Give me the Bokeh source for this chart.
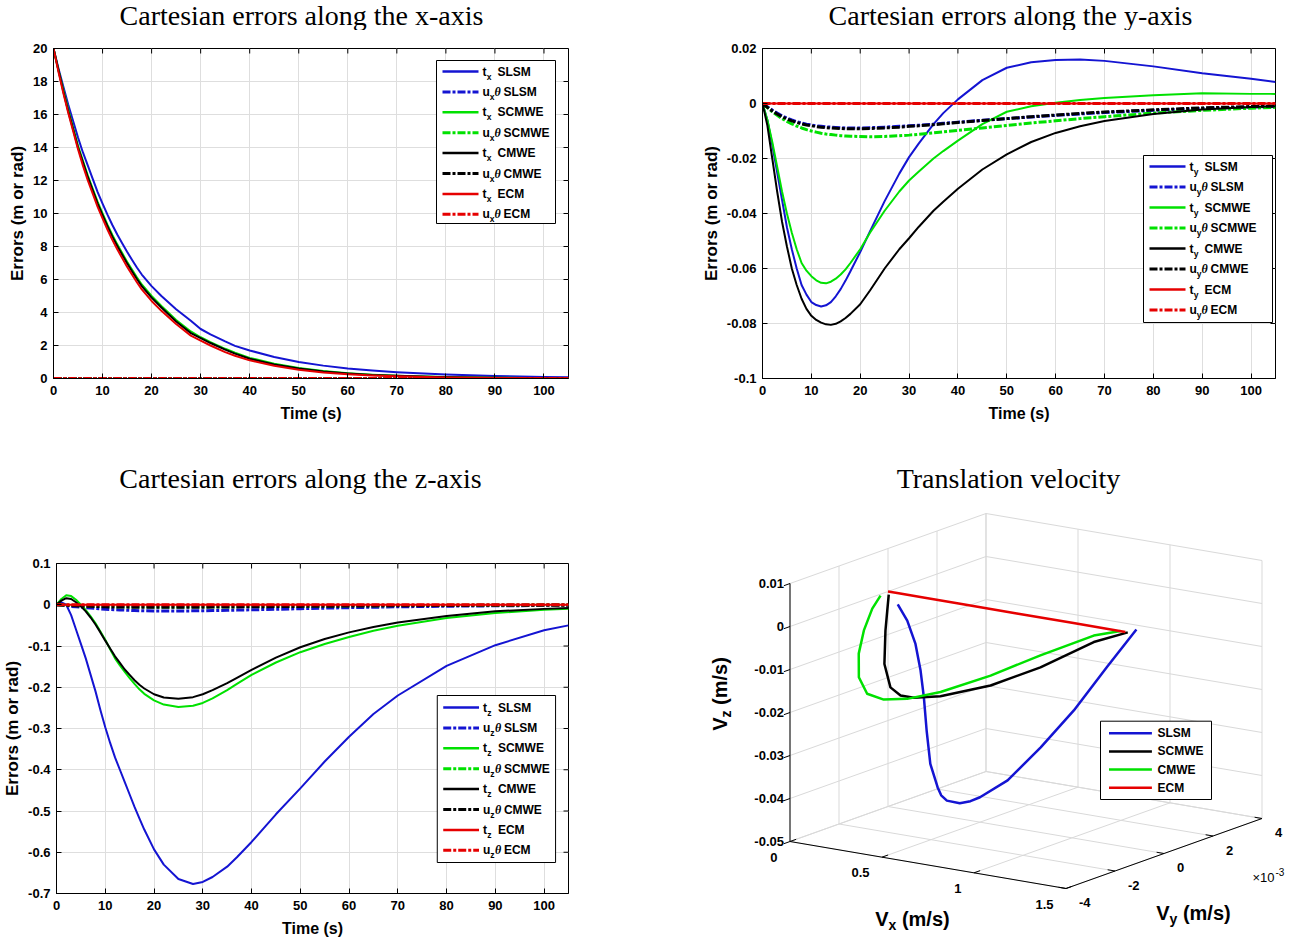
import numpy as np
from bokeh.core.properties import value
from bokeh.embed import file_html
from bokeh.layouts import column, row
from bokeh.models import FixedTicker, PrintfTickFormatter, Range1d
from bokeh.plotting import figure
from bokeh.resources import INLINE

# ---------------------------------------------------------------- data
TIME = [0, 1, 2, 3, 4, 5, 6, 7, 8, 9, 10, 11, 12, 13, 14, 15, 16, 17, 18,
        20, 22, 25, 28, 30, 32, 35, 37, 40, 45, 50, 55, 60, 65, 70, 80, 90, 100, 105]

# translation / rotation errors along x
TX_SLSM = [20.0, 18.8, 17.7, 16.6, 15.6, 14.6, 13.7, 12.9, 12.1, 11.3, 10.6, 9.93, 9.3, 8.73, 8.2,
           7.68, 7.2, 6.73, 6.3, 5.6, 5.0, 4.2, 3.5, 3.0, 2.68, 2.25, 1.98, 1.7, 1.3, 1.0, 0.78,
           0.6, 0.48, 0.38, 0.24, 0.15, 0.09, 0.07]
TX_SCMWE = [20.0, 18.7, 17.5, 16.3, 15.2, 14.1, 13.2, 12.3, 11.5, 10.7, 10.0, 9.33, 8.7, 8.13, 7.6,
            7.08, 6.6, 6.13, 5.7, 5.0, 4.4, 3.55, 2.85, 2.5, 2.2, 1.8, 1.56, 1.25, 0.9, 0.63, 0.45,
            0.32, 0.23, 0.17, 0.09, 0.05, 0.02, 0.02]
TX_CMWE = [20.0, 18.7, 17.4, 16.2, 15.1, 14.0, 13.1, 12.2, 11.4, 10.6, 9.9, 9.23, 8.6, 8.03, 7.5,
           6.98, 6.5, 6.03, 5.6, 4.9, 4.3, 3.45, 2.75, 2.45, 2.15, 1.75, 1.51, 1.2, 0.85, 0.6, 0.42,
           0.3, 0.21, 0.16, 0.08, 0.04, 0.02, 0.01]
TX_ECM = [20.0, 18.6, 17.3, 16.1, 15.0, 13.9, 12.9, 12.0, 11.2, 10.4, 9.7, 9.03, 8.4, 7.83, 7.3,
          6.78, 6.3, 5.83, 5.4, 4.7, 4.1, 3.3, 2.6, 2.3, 2.0, 1.6, 1.38, 1.1, 0.77, 0.53, 0.37,
          0.26, 0.18, 0.13, 0.06, 0.03, 0.01, 0.01]
UX_SLSM = [0.0, 0.0, 0.0, 0.0, 0.0, 0.0, 0.0, 0.0, 0.0, 0.0, 0.0, 0.0, 0.0, 0.0, 0.0, 0.0, 0.0, 0.0, 0.0,
           0.0, 0.0, 0.0, 0.0, 0.0, 0.0, 0.0, 0.0, 0.0, 0.0, 0.0, 0.0, 0.0, 0.0, 0.0, 0.0, 0.0, 0.0, 0.0]
UX_SCMWE = UX_SLSM
UX_CMWE = UX_SLSM
UX_ECM = UX_SLSM

# translation / rotation errors along y
TY_SLSM = [0.0, -0.006, -0.015, -0.025, -0.035, -0.045, -0.053, -0.060, -0.066, -0.0695, -0.0722,
           -0.0733, -0.0738, -0.0734, -0.0722, -0.0701, -0.0675, -0.0644, -0.061, -0.054, -0.0465,
           -0.0355, -0.0255, -0.0195, -0.0145, -0.0075, -0.0035, 0.0015, 0.0085, 0.013, 0.015,
           0.0158, 0.016, 0.0155, 0.0135, 0.011, 0.009, 0.0078]
TY_SCMWE = [0.0, -0.006, -0.014, -0.023, -0.032, -0.040, -0.047, -0.053, -0.058, -0.0608, -0.0628,
            -0.0643, -0.0652, -0.0654, -0.0648, -0.0637, -0.0622, -0.0603, -0.058, -0.053, -0.047,
            -0.039, -0.032, -0.028, -0.0247, -0.020, -0.0173, -0.0135, -0.0075, -0.003, -0.001,
            0.0003, 0.0013, 0.002, 0.003, 0.0037, 0.0035, 0.0035]
TY_CMWE = [0.0, -0.008, -0.020, -0.032, -0.043, -0.052, -0.060, -0.066, -0.071, -0.0747, -0.0772,
           -0.0787, -0.0797, -0.0803, -0.0805, -0.0801, -0.0792, -0.078, -0.0765, -0.073, -0.068,
           -0.060, -0.053, -0.049, -0.0448, -0.039, -0.0357, -0.031, -0.024, -0.0185, -0.014,
           -0.0107, -0.0083, -0.0064, -0.0038, -0.0022, -0.0013, -0.001]
TY_ECM = UX_SLSM
UY_SLSM = [0.0, -0.0012, -0.0024, -0.0035, -0.0045, -0.0053, -0.006, -0.0066, -0.0071, -0.0075,
           -0.0078, -0.0081, -0.0083, -0.0085, -0.0086, -0.0087, -0.0088, -0.0089, -0.0089, -0.0089,
           -0.0088, -0.0086, -0.0083, -0.0081, -0.0079, -0.0075, -0.0072, -0.0068, -0.0061, -0.0055,
           -0.0049, -0.0043, -0.0038, -0.0033, -0.0025, -0.0018, -0.0013, -0.0011]
UY_SCMWE = [0.0, -0.0015, -0.003, -0.0043, -0.0055, -0.0065, -0.0074, -0.0082, -0.0089, -0.0095,
            -0.0100, -0.0104, -0.0108, -0.0111, -0.0113, -0.0115, -0.0117, -0.0118, -0.0119, -0.012,
            -0.0121, -0.012, -0.0117, -0.0115, -0.0112, -0.0107, -0.0103, -0.0098, -0.0089, -0.008,
            -0.0071, -0.0063, -0.0055, -0.0048, -0.0035, -0.0025, -0.0017, -0.0014]
UY_CMWE = [0.0, -0.0014, -0.0027, -0.0038, -0.0048, -0.0056, -0.0063, -0.0069, -0.0074, -0.0078,
           -0.0081, -0.0084, -0.0086, -0.0088, -0.0089, -0.009, -0.0091, -0.0092, -0.0092, -0.0092,
           -0.0091, -0.0089, -0.0086, -0.0083, -0.0081, -0.0077, -0.0074, -0.0069, -0.0062, -0.0055,
           -0.0048, -0.0042, -0.0036, -0.0031, -0.0023, -0.0016, -0.0011, -0.0009]
UY_ECM = UX_SLSM

# translation / rotation errors along z
TZ_SLSM = [0.0, 0.006, 0.0, -0.025, -0.06, -0.095, -0.13, -0.17, -0.21, -0.255, -0.297, -0.335,
           -0.37, -0.40, -0.43, -0.46, -0.49, -0.518, -0.545, -0.593, -0.63, -0.665, -0.677, -0.672,
           -0.66, -0.635, -0.612, -0.575, -0.508, -0.445, -0.38, -0.32, -0.265, -0.22, -0.148,
           -0.098, -0.062, -0.05]
TZ_SCMWE = [0.0, 0.014, 0.023, 0.021, 0.012, 0.0, -0.013, -0.028, -0.045, -0.065, -0.085, -0.108,
            -0.13, -0.147, -0.163, -0.178, -0.192, -0.205, -0.216, -0.232, -0.242, -0.248, -0.245,
            -0.238, -0.227, -0.207, -0.192, -0.17, -0.14, -0.115, -0.095, -0.078, -0.063, -0.051,
            -0.032, -0.02, -0.012, -0.01]
TZ_CMWE = [0.0, 0.01, 0.016, 0.014, 0.006, -0.004, -0.016, -0.031, -0.048, -0.067, -0.087, -0.106,
           -0.125, -0.141, -0.157, -0.170, -0.183, -0.194, -0.203, -0.217, -0.225, -0.228, -0.224,
           -0.217, -0.207, -0.19, -0.177, -0.158, -0.128, -0.103, -0.083, -0.067, -0.054, -0.043,
           -0.027, -0.016, -0.01, -0.008]
TZ_ECM = UX_SLSM
UZ_SLSM = [0.0, -0.001, -0.002, -0.004, -0.005, -0.006, -0.007, -0.008, -0.009, -0.010, -0.011,
           -0.0115, -0.012, -0.0125, -0.013, -0.0135, -0.014, -0.0143, -0.0145, -0.015, -0.015,
           -0.015, -0.0148, -0.0145, -0.0141, -0.0135, -0.013, -0.0122, -0.011, -0.0095, -0.0082,
           -0.007, -0.006, -0.005, -0.0035, -0.0025, -0.0018, -0.0015]
UZ_SCMWE = [0.0, -0.0005, -0.001, -0.0015, -0.002, -0.0025, -0.003, -0.0033, -0.0036, -0.0039,
            -0.0041, -0.0043, -0.0045, -0.0047, -0.0048, -0.0049, -0.005, -0.0051, -0.0051, -0.0052,
            -0.0052, -0.0052, -0.0051, -0.005, -0.0049, -0.0047, -0.0045, -0.0043, -0.0039, -0.0035,
            -0.0031, -0.0027, -0.0023, -0.002, -0.0015, -0.0011, -0.0008, -0.0007]
UZ_CMWE = [0.0, -0.0006, -0.0012, -0.0018, -0.0024, -0.003, -0.0035, -0.0039, -0.0043, -0.0046,
           -0.0049, -0.0052, -0.0054, -0.0056, -0.0057, -0.0058, -0.0059, -0.006, -0.006, -0.0061,
           -0.0061, -0.0061, -0.006, -0.0059, -0.0057, -0.0055, -0.0053, -0.005, -0.0045, -0.004,
           -0.0036, -0.0032, -0.0028, -0.0024, -0.0018, -0.0013, -0.0009, -0.0008]
UZ_ECM = UX_SLSM

X_TICKS = [0, 10, 20, 30, 40, 50, 60, 70, 80, 90, 100]
YX_TICKS = [0, 2, 4, 6, 8, 10, 12, 14, 16, 18, 20]
YY_TICKS = [-0.1, -0.08, -0.06, -0.04, -0.02, 0, 0.02]
YZ_TICKS = [-0.7, -0.6, -0.5, -0.4, -0.3, -0.2, -0.1, 0, 0.1]

# translation velocity trajectories (m/s)
VX_SLSM = [1.35, 1.19, 1.01, 0.83, 0.65, 0.50, 0.448, 0.39, 0.32, 0.289, 0.27, 0.23, 0.21, 0.195,
           0.177, 0.136, 0.078, 0.013]
VY_SLSM = [0.0, 0.0, 0.0, 0.0, 0.0, 0.0, 0.0, 0.0, 0.0, 0.0, 0.0, 0.0, 0.0, 0.0, 0.0, 0.0001,
           0.0002, 0.0003]
VZ_SLSM = [0.001, -0.0089, -0.0203, -0.0302, -0.0392, -0.0442, -0.0455, -0.0464, -0.0463, -0.0453,
           -0.0436, -0.0384, -0.0308, -0.0232, -0.0171, -0.0114, -0.0066, -0.0035]
VX_SCMWE = [1.303, 1.145, 0.895, 0.664, 0.418, 0.287, 0.228, 0.173, 0.127, 0.106, 0.076, 0.044]
VY_SCMWE = [0.0, -0.0002, -0.0005, -0.0008, -0.0010, -0.0011, -0.0012, -0.0012, -0.0011, -0.0009,
            -0.0006, -0.0003]
VZ_SCMWE = [0.0, -0.0030, -0.0101, -0.0154, -0.0193, -0.0204, -0.0201, -0.0186, -0.0137, -0.0065,
            -0.0026, 0.0002]
VX_CMWE = [1.264, 1.145, 0.895, 0.664, 0.432, 0.291, 0.190, 0.113, 0.068, 0.054, 0.042, 0.021, 0.006]
VY_CMWE = [0.0, -0.0002, -0.0005, -0.0008, -0.0011, -0.0014, -0.0016, -0.0017, -0.0017, -0.0016,
           -0.0013, -0.0008, -0.00035]
VZ_CMWE = [0.0, -0.0015, -0.0073, -0.0131, -0.0180, -0.0200, -0.0205, -0.0195, -0.0160, -0.0108,
           -0.0061, -0.0022, -0.0002]
VX_ECM = [1.29, 1.0, 0.7, 0.4, 0.2, 0.05, 0.0]
VY_ECM = [0.0, 0.0, 0.0, 0.0, 0.0, 0.0, 0.0]
VZ_ECM = [0.0, 0.0, 0.0, 0.0, 0.0, 0.0, 0.0]

VX_TICKS = [0.0, 0.5, 1.0, 1.5]
VY_TICKS = [-4e-3, -2e-3, 0.0, 2e-3, 4e-3]
VZ_TICKS = [-0.05, -0.04, -0.03, -0.02, -0.01, 0.0, 0.01]
VX_LABELS = ["0", "0.5", "1", "1.5"]
VY_LABELS = ["-4", "-2", "0", "2", "4"]
VZ_LABELS = ["-0.05", "-0.04", "-0.03", "-0.02", "-0.01", "0", "0.01"]

# ---------------------------------------------------------------- style
SANS = "Liberation Sans"
SERIF = "Liberation Serif"
BLUE = "#1414d2"
GREEN = "#00e100"
BLACK = "#000000"
RED = "#e60000"
DASHDOT = "8 2 3 2"
GRID = "#dedede"
TITLE_PX = 28


def put_text(p, x, y, s, size, style="bold", font=SANS, align="left",
             baseline="middle", angle=0.0, color="black"):
    p.text(x=[x], y=[y], text=[s], text_font=value(font), text_font_size=f"{size}px",
           text_font_style=style, text_align=align, text_baseline=baseline,
           angle=angle, text_color=color)


def blank_canvas(width, height):
    c = figure(width=width, height=height, x_range=Range1d(0, width), y_range=Range1d(0, height),
               output_backend="svg", toolbar_location=None, min_border=0,
               x_axis_type=None, y_axis_type=None)
    c.frame_align = False
    c.outline_line_color = None
    c.background_fill_color = "white"
    c.border_fill_color = "white"
    return c


def title_strip(text, height, cx, cy):
    """A thin strip holding a panel title, centred at (cx, cy) from its top-left corner."""
    t = blank_canvas(652, height)
    put_text(t, cx, height - cy, text, TITLE_PX, style="normal", font=SERIF, align="center")
    return t


def time_panel(y_lim, y_ticks, series, letter, legend_box, height, top, left, right):
    frame_h = 330
    p = figure(width=652, height=height, x_range=Range1d(0, 105), y_range=Range1d(*y_lim),
               output_backend="svg", toolbar_location=None,
               min_border_left=left, min_border_right=right, min_border_top=top,
               min_border_bottom=height - top - frame_h)
    p.frame_align = False
    frame_w = 652 - left - right
    fx = lambda px: p.x_range.start + px / frame_w * (p.x_range.end - p.x_range.start)
    fy = lambda py: p.y_range.end - py / frame_h * (p.y_range.end - p.y_range.start)
    p.background_fill_color = "white"
    p.border_fill_color = "white"
    p.outline_line_color = "black"
    p.outline_line_width = 1

    xt = FixedTicker(ticks=X_TICKS)
    yt = FixedTicker(ticks=y_ticks)
    fmt = PrintfTickFormatter(format="%g")
    for ax, tk in ((p.xaxis[0], xt), (p.yaxis[0], yt)):
        ax.ticker = tk
        ax.formatter = fmt
        ax.major_tick_in = 5
        ax.major_tick_out = 0
        ax.minor_tick_line_color = None
        ax.axis_line_color = "black"
        ax.major_tick_line_color = "black"
        ax.major_label_text_font = SANS
        ax.major_label_text_font_style = "bold"
        ax.major_label_text_font_size = "13px"
        ax.major_label_text_color = "black"
        ax.axis_label_text_font = SANS
        ax.axis_label_text_font_style = "bold"
        ax.axis_label_text_color = "black"
    p.xaxis[0].major_label_standoff = 7
    p.xaxis[0].axis_label_standoff = 7
    p.yaxis[0].major_label_standoff = 6
    p.yaxis[0].axis_label_standoff = 3
    p.xaxis[0].axis_label = "Time (s)"
    p.xaxis[0].axis_label_text_font_size = "16px"
    p.yaxis[0].axis_label = "Errors (m or rad)"
    p.yaxis[0].axis_label_text_font_size = "17px"
    p.xgrid.ticker = xt
    p.ygrid.ticker = yt
    p.xgrid.grid_line_color = GRID
    p.ygrid.grid_line_color = GRID

    # inward tick marks on the top and right edges of the box
    p.segment(x0=X_TICKS, x1=X_TICKS, y0=[fy(0)] * len(X_TICKS), y1=[fy(5)] * len(X_TICKS),
              line_color="black", line_width=1)
    p.segment(x0=[fx(frame_w)] * len(y_ticks), x1=[fx(frame_w - 5)] * len(y_ticks),
              y0=y_ticks, y1=y_ticks, line_color="black", line_width=1)

    for kind, name, color, vals in series:
        dashed = kind == "u"
        p.line(TIME, vals, line_color=color, line_width=3 if dashed else 2,
               line_dash=DASHDOT if dashed else "solid", line_join="round")

    # legend
    bl, bt, bw, bh, first, step = legend_box
    p.quad(left=[fx(bl)], right=[fx(bl + bw)], top=[fy(bt)], bottom=[fy(bt + bh)],
           fill_color="white", line_color="black", line_width=1)
    for i, (kind, name, color, _) in enumerate(series):
        cy = bt + first + i * step
        dashed = kind == "u"
        p.line([fx(bl + 6), fx(bl + 42)], [fy(cy), fy(cy)], line_color=color,
               line_width=3 if dashed else 2.5, line_dash=DASHDOT if dashed else "solid")
        tx = bl + 46
        if dashed:
            put_text(p, fx(tx), fy(cy), "u", 12)
            put_text(p, fx(tx + 7.2), fy(cy + 5), letter, 8.5)
            put_text(p, fx(tx + 12.0), fy(cy), "\u03b8", 12, style="bold italic", font=SERIF)
            put_text(p, fx(tx + 21.0), fy(cy), name, 12)
        else:
            put_text(p, fx(tx), fy(cy), "t", 12)
            put_text(p, fx(tx + 4.2), fy(cy + 5), letter, 8.5)
            put_text(p, fx(tx + 15.0), fy(cy), name, 12)
    return p


def series_rows(t_slsm, u_slsm, t_scmwe, u_scmwe, t_cmwe, u_cmwe, t_ecm, u_ecm):
    return [("t", "SLSM", BLUE, t_slsm), ("u", "SLSM", BLUE, u_slsm),
            ("t", "SCMWE", GREEN, t_scmwe), ("u", "SCMWE", GREEN, u_scmwe),
            ("t", "CMWE", BLACK, t_cmwe), ("u", "CMWE", BLACK, u_cmwe),
            ("t", "ECM", RED, t_ecm), ("u", "ECM", RED, u_ecm)]


t1 = title_strip("Cartesian errors along the x-axis", 30, 301, 15)
p1 = time_panel((0, 20), YX_TICKS,
                series_rows(TX_SLSM, UX_SLSM, TX_SCMWE, UX_SCMWE, TX_CMWE, UX_CMWE, TX_ECM, UX_ECM),
                "x", (383, 12, 119, 163, 11, 20.4), 420, 18, 53, 84)
t2 = title_strip("Cartesian errors along the y-axis", 30, 358, 15)
p2 = time_panel((-0.1, 0.02), YY_TICKS,
                series_rows(TY_SLSM, UY_SLSM, TY_SCMWE, UY_SCMWE, TY_CMWE, UY_CMWE, TY_ECM, UY_ECM),
                "y", (381, 107, 129, 167, 11, 20.5), 420, 18, 110, 29)
t3 = title_strip("Cartesian errors along the z-axis", 56, 300, 28)
p3 = time_panel((-0.7, 0.1), YZ_TICKS,
                series_rows(TZ_SLSM, UZ_SLSM, TZ_SCMWE, UZ_SCMWE, TZ_CMWE, UZ_CMWE, TZ_ECM, UZ_ECM),
                "z", (383, 132, 119, 167, 12, 20.4), 434, 57, 53, 84)

# ---------------------------------------------------------------- 3-D velocity panel
VX_LIM = (0.0, 1.5)
VY_LIM = (-4e-3, 4e-3)
VZ_LIM = (-0.05, 0.01)
BOX_ORIGIN = (137.5, 99.0)   # panel position of (Vx min, Vy min, Vz min)
BOX_X = (276.0, -47.0)       # projected extent of the Vx axis
BOX_Y = (196.0, 70.0)        # projected extent of the Vy axis
BOX_Z = (0.0, 258.0)         # projected extent of the Vz axis


def project(vx, vy, vz):
    vx, vy, vz = (np.asarray(a, dtype=float) for a in (vx, vy, vz))
    u = (vx - VX_LIM[0]) / (VX_LIM[1] - VX_LIM[0])
    v = (vy - VY_LIM[0]) / (VY_LIM[1] - VY_LIM[0])
    w = (vz - VZ_LIM[0]) / (VZ_LIM[1] - VZ_LIM[0])
    sx = BOX_ORIGIN[0] + u * BOX_X[0] + v * BOX_Y[0] + w * BOX_Z[0]
    sy = BOX_ORIGIN[1] + u * BOX_X[1] + v * BOX_Y[1] + w * BOX_Z[1]
    return sx.tolist(), sy.tolist()


p4 = blank_canvas(652, 490)

x0, x1 = VX_LIM
y0, y1 = VY_LIM
z0, z1 = VZ_LIM
gxs, gys = [], []


def add_seg(store_x, store_y, a, b):
    sx, sy = project([a[0], b[0]], [a[1], b[1]], [a[2], b[2]])
    store_x.append(sx)
    store_y.append(sy)


for vx in VX_TICKS:
    add_seg(gxs, gys, (vx, y0, z0), (vx, y1, z0))
    add_seg(gxs, gys, (vx, y1, z0), (vx, y1, z1))
for vy in VY_TICKS:
    add_seg(gxs, gys, (x0, vy, z0), (x1, vy, z0))
    add_seg(gxs, gys, (x0, vy, z0), (x0, vy, z1))
for vz in VZ_TICKS:
    add_seg(gxs, gys, (x0, y0, vz), (x0, y1, vz))
    add_seg(gxs, gys, (x0, y1, vz), (x1, y1, vz))
p4.multi_line(gxs, gys, line_color="#d9d9d9", line_width=1)

axs, ays = [], []
add_seg(axs, ays, (x0, y0, z0), (x0, y0, z1))
add_seg(axs, ays, (x0, y0, z0), (x1, y0, z0))
add_seg(axs, ays, (x1, y0, z0), (x1, y1, z0))
for vz in VZ_TICKS:
    add_seg(axs, ays, (x0, y0, vz), (x0, y0 - 0.25e-3, vz))
for vx in VX_TICKS:
    add_seg(axs, ays, (vx, y0, z0), (vx, y0 + 0.25e-3, z0))
for vy in VY_TICKS:
    add_seg(axs, ays, (x1, vy, z0), (x1 - 0.04, vy, z0))
p4.multi_line(axs, ays, line_color="black", line_width=1)

sx, sy = project([x0] * len(VZ_TICKS), [y0] * len(VZ_TICKS), VZ_TICKS)
p4.text(x=[v - 6 for v in sx], y=sy, text=VZ_LABELS, text_font=value(SANS), text_font_size="13px",
        text_font_style="bold", text_align="right", text_baseline="middle")
sx, sy = project(VX_TICKS, [y0] * len(VX_TICKS), [z0] * len(VX_TICKS))
p4.text(x=[v - 12.5 for v in sx], y=[v - 15.5 for v in sy], text=VX_LABELS, text_font=value(SANS),
        text_font_size="13px", text_font_style="bold", text_align="right", text_baseline="middle")
sx, sy = project([x1] * len(VY_TICKS), VY_TICKS, [z0] * len(VY_TICKS))
p4.text(x=[v + 13 for v in sx], y=[v - 14 for v in sy], text=VY_LABELS, text_font=value(SANS),
        text_font_size="13px", text_font_style="bold", text_align="left", text_baseline="middle")
put_text(p4, 600, 63, "\u00d710", 13, style="normal")
put_text(p4, 623, 69, "-3", 10, style="normal")

# axis titles with subscripts
put_text(p4, 222.7, 22, "V", 20)
put_text(p4, 236.0, 16, "x", 14)
put_text(p4, 249.4, 22, "(m/s)", 20)
put_text(p4, 503.7, 28, "V", 20)
put_text(p4, 517.0, 22, "y", 14)
put_text(p4, 530.4, 28, "(m/s)", 20)
put_text(p4, 67.5, 209.7, "V", 20, angle=np.pi / 2)
put_text(p4, 73.5, 223.0, "z", 14, angle=np.pi / 2)
put_text(p4, 67.5, 235.6, "(m/s)", 20, angle=np.pi / 2)

put_text(p4, 356, 462, "Translation velocity", TITLE_PX, style="normal", font=SERIF, align="center")

TRAJ = [("SLSM", BLUE, VX_SLSM, VY_SLSM, VZ_SLSM),
        ("SCMWE", BLACK, VX_SCMWE, VY_SCMWE, VZ_SCMWE),
        ("CMWE", GREEN, VX_CMWE, VY_CMWE, VZ_CMWE),
        ("ECM", RED, VX_ECM, VY_ECM, VZ_ECM)]
for name, color, vx, vy, vz in TRAJ:
    sx, sy = project(vx, vy, vz)
    p4.line(sx, sy, line_color=color, line_width=2.5, line_join="round")

# legend of the velocity panel
p4.quad(left=[448], right=[559], top=[219.3], bottom=[141], fill_color="white",
        line_color="black", line_width=1)
for i, (name, color, *_rest) in enumerate(TRAJ):
    ly = 207.3 - i * 18.2
    p4.line([456.5, 499.4], [ly, ly], line_color=color, line_width=2.5)
    put_text(p4, 505, ly, name, 12)

layout = column(row(column(t1, p1), column(t2, p2)),
                row(column(t3, p3), p4))
open("out.html", "w").write(file_html(layout, INLINE))
